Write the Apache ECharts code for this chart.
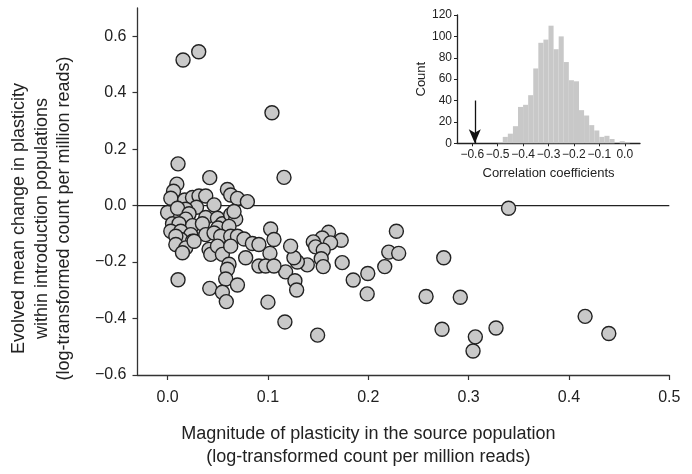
<!DOCTYPE html>
<html><head><meta charset="utf-8">
<script src="https://cdn.jsdelivr.net/npm/echarts@6/dist/echarts.min.js"></script>
<style>html,body{margin:0;padding:0;background:#fff}#c{width:692px;height:474px}</style>
</head><body><div id="c"></div>
<script>
// Main scatter: magnitude of plasticity in source (x) vs evolved mean change (y)
const sourceX = [
  0.0154, 0.031, 0.104, 0.116,
  0.0104, 0.042, 0.0092, 0.0059, 0.0032, 0.0, 0.0596, 0.0629, 0.0696, 0.0795,
  0.0171, 0.0248, 0.0313, 0.038, 0.0288, 0.0181, 0.0099, 0.0463, 0.038, 0.0214,
  0.0181, 0.0049, 0.0114, 0.0248, 0.0347, 0.0497, 0.0546, 0.0629, 0.0679, 0.0662,
  0.0502, 0.0612, 0.0032, 0.0131, 0.0231, 0.038, 0.0131, 0.0082, 0.0248, 0.0463,
  0.0529, 0.0629, 0.0696, 0.0761, 0.0845, 0.091, 0.0082, 0.0181, 0.0148, 0.0264,
  0.0413, 0.043, 0.0497, 0.0546, 0.0629, 0.0778, 0.0612, 0.0596, 0.091, 0.0104,
  0.0579, 0.042, 0.0546, 0.0696, 0.0585,
  0.228, 0.2204, 0.2303, 0.2164, 0.1995, 0.185, 0.1989, 0.2576, 0.174, 0.173,
  0.1604, 0.1541, 0.1452, 0.1475, 0.1624, 0.1551, 0.1531, 0.1551, 0.1392, 0.1293,
  0.1259, 0.1226, 0.1176, 0.1269, 0.1286, 0.100, 0.1169, 0.1495, 0.1027, 0.106,
  0.102, 0.0977, 0.106,
  0.2752, 0.2917, 0.2735, 0.3067, 0.3044, 0.3273, 0.4161, 0.4397, 0.3398
];
const evolvedY = [
  0.516, 0.545, 0.329, 0.100,
  0.148, 0.099, 0.076, 0.051, 0.026, -0.0245, 0.057, 0.0375, 0.0256, 0.014,
  0.020, 0.029, 0.034, 0.034, -0.006, -0.013, -0.0095, 0.0025, -0.042, -0.029,
  -0.048, -0.064, -0.064, -0.071, -0.064, -0.0445, -0.064, -0.0326, -0.048, -0.021,
  -0.0795, -0.0736, -0.091, -0.091, -0.1026, -0.1026, -0.120, -0.1086, -0.126, -0.097,
  -0.1086, -0.1086, -0.1086, -0.118, -0.134, -0.1377, -0.1377, -0.1496, -0.167, -0.126,
  -0.155, -0.1727, -0.1436, -0.1727, -0.1436, -0.1846, -0.2077, -0.2252, -0.2137, -0.2627,
  -0.260, -0.293, -0.307, -0.281, -0.340,
  -0.091, -0.1646, -0.169, -0.216, -0.2406, -0.2637, -0.3128, -0.322, -0.202, -0.1226,
  -0.0946, -0.1145, -0.1285, -0.146, -0.132, -0.1576, -0.188, -0.216, -0.210, -0.1996,
  -0.1846, -0.1436, -0.2347, -0.266, -0.2988, -0.342, -0.412, -0.4588, -0.083, -0.120,
  -0.169, -0.2137, -0.2137,
  -0.1846, -0.3247, -0.4378, -0.4648, -0.515, -0.4333, -0.3923, -0.4529, -0.0095
];
const xTicks = [0.0, 0.1, 0.2, 0.3, 0.4, 0.5];
const yTicks = [-0.6, -0.4, -0.2, 0.0, 0.2, 0.4, 0.6];
const zeroLineX = [-0.03, 0.5];

// Inset histogram of correlation coefficients
const binLeft = [-0.50,-0.48,-0.46,-0.44,-0.42,-0.40,-0.38,-0.36,-0.34,-0.32,-0.30,-0.28,-0.26,
                 -0.24,-0.22,-0.20,-0.18,-0.16,-0.14,-0.12,-0.10,-0.08,-0.06,-0.04,-0.02,0.00];
const binRight = [-0.48,-0.46,-0.44,-0.42,-0.40,-0.38,-0.36,-0.34,-0.32,-0.30,-0.28,-0.26,-0.24,
                  -0.22,-0.20,-0.18,-0.16,-0.14,-0.12,-0.10,-0.08,-0.06,-0.04,-0.02,0.00,0.02];
const binCount = [1, 6, 9, 16, 34, 36, 45, 70, 94, 97, 110, 88, 100,
                  76, 59, 58, 31, 26, 17, 12, 6, 7, 4, 0, 2, 1];
const insetXTicks = [-0.6, -0.5, -0.4, -0.3, -0.2, -0.1, 0.0];
const insetYTicks = [0, 20, 40, 60, 80, 100, 120];
const observedR = -0.59;
const arrowFrom = 40;

const FONT = "'Liberation Sans', Arial, Helvetica, sans-serif";
const TXT = '#222';
const fmt = v => v.toFixed(1).replace('-', '\u2212');

const chart = echarts.init(document.getElementById('c'), null, {renderer: 'canvas'});
const scatterData = sourceX.map((x, i) => [x, evolvedY[i]]);
const histData = binLeft.map((l, i) => [l, binRight[i], binCount[i]]);

chart.setOption({
  backgroundColor: '#fff',
  animation: false,
  textStyle: {fontFamily: FONT},
  grid: [
    {left: 137, top: 8, right: 22.7, bottom: 93.7, containLabel: false},
    {left: 457, top: 15, width: 183, height: 128.3, containLabel: false}
  ],
  xAxis: [
    {
      type: 'value', gridIndex: 0, min: -0.03, max: 0.5,
      axisLine: {show: true, onZero: false, lineStyle: {color: '#333', width: 1.3}},
      axisTick: {show: true, length: 5, lineStyle: {color: '#333', width: 1.2}, customValues: xTicks},
      axisLabel: {fontSize: 16, color: TXT, margin: 15, fontFamily: FONT, formatter: fmt, customValues: xTicks},
      splitLine: {show: false},
      name: 'Magnitude of plasticity in the source population\n(log-transformed count per million reads)',
      nameLocation: 'middle', nameGap: 48,
      nameTextStyle: {fontSize: 18, color: TXT, lineHeight: 23, fontFamily: FONT, padding: [0, 70, 0, 0]}
    },
    {
      type: 'value', gridIndex: 1, min: -0.66, max: 0.06,
      axisLine: {show: true, onZero: false, lineStyle: {color: '#222', width: 1.3}},
      axisTick: {show: true, length: 3, lineStyle: {color: '#222', width: 1}, customValues: insetXTicks},
      axisLabel: {fontSize: 12, color: TXT, margin: 5, fontFamily: FONT, formatter: fmt, customValues: insetXTicks},
      splitLine: {show: false},
      name: 'Correlation coefficients', nameLocation: 'middle', nameGap: 24,
      nameTextStyle: {fontSize: 13, color: TXT, fontFamily: FONT}
    }
  ],
  yAxis: [
    {
      type: 'value', gridIndex: 0, min: -0.6, max: 0.7,
      axisLine: {show: true, onZero: false, lineStyle: {color: '#333', width: 1.3}},
      axisTick: {show: true, length: 5, lineStyle: {color: '#333', width: 1.2}, customValues: yTicks},
      axisLabel: {fontSize: 16, color: TXT, margin: 11, fontFamily: FONT, formatter: fmt, customValues: yTicks},
      splitLine: {show: false},
      name: 'Evolved mean change in plasticity\nwithin introduction populations\n(log-transformed count per million reads)',
      nameLocation: 'middle', nameGap: 62,
      nameTextStyle: {fontSize: 18, color: TXT, lineHeight: 22.5, fontFamily: FONT, padding: [0, 54, 0, 0]}
    },
    {
      type: 'value', gridIndex: 1, min: 0, max: 120, interval: 20,
      axisLine: {show: true, onZero: false, lineStyle: {color: '#222', width: 1.3}},
      axisTick: {show: true, length: 3, lineStyle: {color: '#222', width: 1}},
      axisLabel: {fontSize: 12, color: TXT, margin: 5, fontFamily: FONT},
      splitLine: {show: false},
      name: 'Count', nameLocation: 'middle', nameGap: 28,
      nameTextStyle: {fontSize: 13, color: TXT, fontFamily: FONT}
    }
  ],
  series: [
    {
      type: 'line', xAxisIndex: 0, yAxisIndex: 0, z: 1,
      data: zeroLineX.map(x => [x, 0]), showSymbol: false, symbol: 'none',
      lineStyle: {color: '#222', width: 1.3}, silent: true
    },
    {
      type: 'scatter', xAxisIndex: 0, yAxisIndex: 0, z: 3,
      data: scatterData, symbol: 'circle', symbolSize: 14,
      itemStyle: {color: '#c9c9c9', borderColor: '#222', borderWidth: 1.4, opacity: 1}
    },
    {
      type: 'custom', xAxisIndex: 1, yAxisIndex: 1, z: 2,
      data: histData,
      encode: {x: [0, 1], y: 2},
      renderItem: function (params, api) {
        const p0 = api.coord([api.value(0), 0]);
        const p1 = api.coord([api.value(1), api.value(2)]);
        return {
          type: 'rect',
          shape: {x: p0[0], y: p1[1], width: p1[0] - p0[0], height: p0[1] - p1[1]},
          style: {fill: '#c8c8c8'}
        };
      },
      markLine: {
        silent: true, symbol: ['none', 'arrow'], symbolSize: [9, 14],
        label: {show: false},
        lineStyle: {color: '#111', width: 1.3, type: 'solid'},
        data: [[{coord: [observedR, arrowFrom]}, {coord: [observedR, 0]}]]
      }
    }
  ]
});
</script></body></html>
